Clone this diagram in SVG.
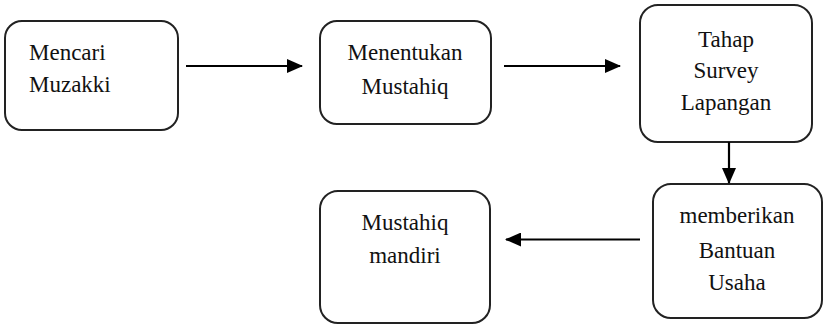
<svg xmlns="http://www.w3.org/2000/svg" width="828" height="325" viewBox="0 0 828 325">
<style>
.box{fill:#fff;stroke:#222;stroke-width:2}
text{font-family:'Liberation Serif','Tinos','DejaVu Serif',serif;font-size:23px;fill:#111}
.c{text-anchor:middle}
.ln{stroke:#000;stroke-width:2.2;fill:none}
</style>
<defs>
<marker id="ah2" markerWidth="16" markerHeight="14" refX="15" refY="7" orient="auto" markerUnits="userSpaceOnUse" viewBox="0 0 16 14">
<path d="M0,0 L16,7 L0,14 z" fill="#000"/>
</marker>
</defs>
<rect width="828" height="325" fill="#fff"/>
<g id="n1">
<rect class="box" x="5" y="21" width="173" height="109" rx="17"/>
<text x="29" y="60">Mencari</text>
<text x="29" y="92">Muzakki</text>
</g>
<g id="n2">
<rect class="box" x="320" y="21" width="171" height="103" rx="17"/>
<text class="c" x="405" y="60">Menentukan</text>
<text class="c" x="405" y="94">Mustahiq</text>
</g>
<g id="n3">
<rect class="box" x="640" y="5" width="172" height="137" rx="18"/>
<text class="c" x="726" y="47">Tahap</text>
<text class="c" x="726" y="78">Survey</text>
<text class="c" x="726" y="110">Lapangan</text>
</g>
<g id="n4">
<rect class="box" x="653" y="184" width="169" height="134" rx="18"/>
<text class="c" x="737" y="223">memberikan</text>
<text class="c" x="737" y="258">Bantuan</text>
<text class="c" x="737" y="290">Usaha</text>
</g>
<g id="n5">
<rect class="box" x="320" y="191" width="170" height="132" rx="18"/>
<text class="c" x="405" y="230">Mustahiq</text>
<text class="c" x="405" y="263">mandiri</text>
</g>
<g id="connectors">
<line class="ln" x1="186" y1="66" x2="302" y2="66" marker-end="url(#ah2)"/>
<line class="ln" x1="504" y1="66" x2="620" y2="66" marker-end="url(#ah2)"/>
<line class="ln" x1="729" y1="142" x2="729" y2="183" marker-end="url(#ah2)"/>
<line class="ln" x1="640" y1="239.5" x2="506" y2="239.5" marker-end="url(#ah2)"/>
</g>
</svg>
